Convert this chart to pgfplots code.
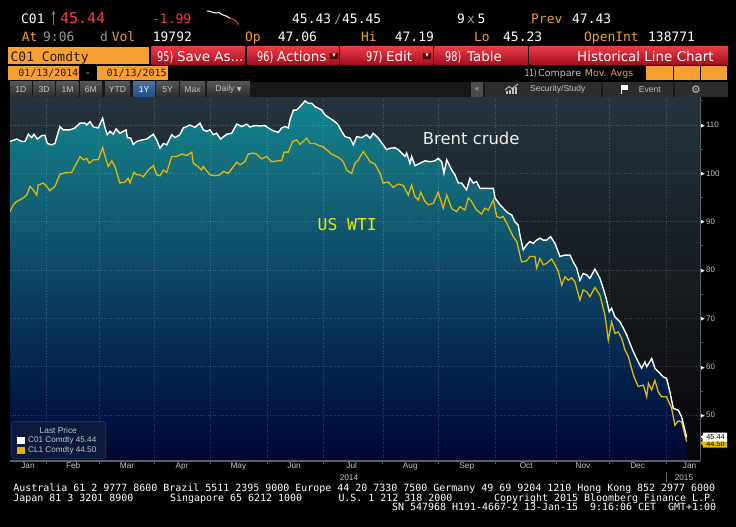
\documentclass[border=0pt]{standalone}
\usepackage{pgfplots}
\pgfplotsset{compat=1.18}
\usepackage{graphicx}
\usetikzlibrary{arrows.meta}
\usepackage{fontspec}
\setmainfont{DejaVu Sans}
\newfontfamily\mono{DejaVu Sans Mono}
\newfontfamily\lib{Liberation Sans}
\newcommand\fs[1]{\fontsize{#1}{#1}\selectfont}
\definecolor{bbor}{HTML}{F6A032}
\definecolor{bbortxt}{HTML}{F0A030}
\definecolor{bbred}{HTML}{FF3838}
\definecolor{bbgreen}{HTML}{2DB34A}
\definecolor{hgray}{HTML}{9A9A9A}
\definecolor{labgray}{HTML}{C4C4C4}
\definecolor{axgray}{HTML}{5A6068}
\definecolor{wti}{HTML}{E2B700}
\definecolor{wtitxt}{HTML}{F4E600}
\definecolor{btnTop}{HTML}{E83A46}
\definecolor{btnBot}{HTML}{A50F1C}
\definecolor{tbBtn}{HTML}{2C2C2C}
\definecolor{tbBar}{HTML}{181818}
\definecolor{tbBlue}{HTML}{1E4E86}
\definecolor{lgfill}{HTML}{0B1A3A}
\definecolor{lgdraw}{HTML}{2B3A55}
\definecolor{datetxt}{HTML}{2A1800}
% area under Brent
\definecolor{fa0}{HTML}{000830}
\definecolor{fa1}{HTML}{00103E}
\definecolor{fa2}{HTML}{04264F}
\definecolor{fa3}{HTML}{0A3E60}
\definecolor{fa4}{HTML}{11596F}
\definecolor{fa5}{HTML}{156D7C}
\definecolor{fa6}{HTML}{0E858E}
% background
\definecolor{bg0}{HTML}{050507}
\definecolor{bg1}{HTML}{0A0A0E}
\definecolor{bg2}{HTML}{101116}
\definecolor{bg3}{HTML}{131719}
\definecolor{bg4}{HTML}{171D22}
\definecolor{bg5}{HTML}{1B232B}
\definecolor{bg6}{HTML}{1F2A32}
\definecolor{bg7}{HTML}{25333C}
\pgfdeclareverticalshading{areashade}{100bp}{color(0bp)=(fa0); color(25bp)=(fa0); color(30bp)=(fa1); color(38.4bp)=(fa2); color(48.2bp)=(fa3); color(57.6bp)=(fa4); color(66.3bp)=(fa5); color(75bp)=(fa6); color(100bp)=(fa6)}
\pgfdeclareverticalshading{bgshade}{100bp}{color(0bp)=(bg0); color(25bp)=(bg0); color(31.3bp)=(bg1); color(38bp)=(bg2); color(44.6bp)=(bg3); color(51.2bp)=(bg4); color(59.2bp)=(bg5); color(64.5bp)=(bg6); color(75bp)=(bg7); color(100bp)=(bg7)}
\newcommand\tri{{\rmfamily\color{white}\fs{5}\raisebox{0.4bp}{▶}}\hspace{1.3bp}}
\begin{document}
\begin{tikzpicture}
\begin{scope}[x=1bp,y=-1bp]
\fill[black] (0,0) rectangle (736,527);
% ---------- header row 1
\tikzset{hn/.style={anchor=base west, inner sep=0, font=\mono\fs{13}}}
\node[hn, text=white] at (21,23.3) {C01};
\draw[bbgreen, line width=1.1bp, -{Stealth[length=3.5bp,width=4bp]}] (53.5,25) -- (53.5,11);
\node[hn, text=bbred, font=\mono\fs{15}] at (60,23.3) {45.44};
\node[hn, text=bbred] at (152,23.3) {-1.99};
\node[hn, text=white] at (292,23.3) {45.43};
\node[hn, text=hgray] at (334,23.3) {/};
\node[hn, text=white] at (342,23.3) {45.45};
\node[hn, text=white] at (457,23.3) {9};
\node[hn, text=hgray] at (467,23.3) {x};
\node[hn, text=white] at (477.5,23.3) {5};
\node[hn, text=bbortxt] at (531,23.3) {Prev};
\node[hn, text=white] at (572,23.3) {47.43};
% ---------- header row 2
\node[hn, text=bbortxt] at (21.7,41.5) {At};
\node[hn, text=hgray] at (43,41.5) {9:06};
\node[hn, text=hgray] at (100,41.5) {d};
\node[hn, text=bbortxt] at (111.7,41.5) {Vol};
\node[hn, text=white] at (152.7,41.5) {19792};
\node[hn, text=bbortxt] at (245,41.5) {Op};
\node[hn, text=white] at (277.7,41.5) {47.06};
\node[hn, text=bbortxt] at (361,41.5) {Hi};
\node[hn, text=white] at (394.7,41.5) {47.19};
\node[hn, text=bbortxt] at (474,41.5) {Lo};
\node[hn, text=white] at (503,41.5) {45.23};
\node[hn, text=bbortxt] at (584,41.5) {OpenInt};
\node[hn, text=white] at (648,41.5) {138771};
% ---------- row 3
\fill[bbor] (8.3,46.7) rectangle (149,64.3);
\node[hn, text=datetxt] at (10.5,61) {C01 Comdty};
\foreach \a/\b in {151.7/245, 247.3/338.3, 340/433, 434.7/528, 529.7/728}{
  \shade[top color=btnTop, bottom color=btnBot] (\a,46.7) rectangle (\b,64.3);
}
\tikzset{bt/.style={anchor=base west, inner sep=0, text=white, font=\fs{13.5}}}
\node[bt] at (157,61) {\scalebox{0.72}[1]{95)}};
\node[bt] at (177,61) {Save As...};
\node[bt] at (257,61) {\scalebox{0.72}[1]{96)}};
\node[bt] at (277,61) {Actions};
\fill[black!70!red] (330,52.5) rectangle (338,58.5);
\node[anchor=center, inner sep=0, text=white, font=\fs{7}] at (334,55.3) {▾};
\node[bt] at (366,61) {\scalebox{0.72}[1]{97)}};
\node[bt] at (386,61) {Edit};
\fill[black!70!red] (423,52.5) rectangle (431,58.5);
\node[anchor=center, inner sep=0, text=white, font=\fs{7}] at (427,55.3) {▾};
\node[bt] at (445,61) {\scalebox{0.72}[1]{98)}};
\node[bt] at (467,61) {Table};
\node[bt] at (577,61) {Historical Line Chart};
% ---------- row 4
\fill[bbor] (8.3,66) rectangle (79,80);
\fill[bbor] (96.7,66) rectangle (168.3,80);
\node[anchor=base west, inner sep=0, text=datetxt, font=\mono\fs{10}] at (18.3,76.3) {01/13/2014};
\node[anchor=base west, inner sep=0, text=datetxt, font=\mono\fs{10}] at (106.5,76.3) {01/13/2015};
\node[anchor=base west, inner sep=0, text=bbor, font=\mono\fs{11}] at (84.5,76.3) {-};
\node[anchor=base west, inner sep=0, text=cyan!30!white, font=\fs{9.5}] at (524.7,76.3) {\scalebox{0.75}[1]{11)}};
\node[anchor=base west, inner sep=0, text=labgray, font=\fs{9.5}] at (538,76.3) {Compare};
\node[anchor=base west, inner sep=0, text=bbortxt, font=\fs{9.5}] at (584.7,76.3) {Mov. Avgs};
\fill[bbor] (646,66) rectangle (673,80);
\fill[bbor] (674,66) rectangle (700,80);
\fill[bbor] (701,66) rectangle (727,80);
% ---------- row 5 toolbar
\fill[tbBar] (10,81.7) rectangle (728,96.7);
\tikzset{tb/.style={anchor=center, inner sep=0, text=labgray, font=\lib\fs{8.6}}}
\foreach \a/\b/\t in {10/31.7/1D, 33/55/3D, 56.7/78.3/1M, 80/101.7/6M, 105/130/YTD, 156.7/178.3/5Y, 180/205/Max}{
  \shade[top color=tbBtn!80!white, bottom color=tbBtn] (\a,81.7) rectangle (\b,96.7);
  \node[tb] at ({(\a+\b)/2},89.2) {\t};
}
\shade[top color=tbBlue!80!white, bottom color=tbBlue] (133,81.7) rectangle (155,96.7);
\node[tb, text=white] at (144,89.2) {1Y};
\shade[top color=tbBtn!80!white, bottom color=tbBtn] (207,81.7) rectangle (250,96.7);
\node[tb] at (228.5,89.2) {Daily {\rmfamily\fs{6}▼}};
\fill[tbBtn!85!white] (471,81.7) rectangle (483,96.7);
\node[tb] at (477,89) {{\rmfamily\fs{8}«}};
\fill[tbBtn] (484.7,81.7) rectangle (601,96.7);
\fill[tbBtn] (603,81.7) rectangle (673,96.7);
\fill[tbBtn] (674.7,81.7) rectangle (728,96.7);
% security/study icon
\fill[labgray] (506,94) rectangle (507.5,91);
\fill[labgray] (509,94) rectangle (510.5,89.5);
\fill[labgray] (512,94) rectangle (513.5,88);
\fill[labgray] (515,94) rectangle (516.5,87);
\draw[labgray, line width=0.9bp] (505,90) -- (509,86.5) -- (512,88.5) -- (518,84);
\node[tb, anchor=west, font=\lib\fs{8.6}] at (530,89.2) {Security/Study};
% event flag
\draw[white, line width=1bp] (621,84.5) -- (621,94);
\fill[white] (621,84.5) rectangle (628,90);
\node[tb, anchor=west, font=\lib\fs{8.6}] at (638.7,89.2) {Event};
\node[tb, font=\rmfamily\fs{11}] at (696,89.2) {⚙};
\end{scope}

% ================= main chart
\begin{axis}[
  at={(10bp,-461bp)}, anchor=south west,
  width=690bp, height=364bp, scale only axis,
  xmin=0, xmax=371.6, ymin=40.5, ymax=115.8,
  axis x line*=bottom, axis y line*=right,
  axis on top,
  axis background/.style={shading=bgshade},
  x axis line style={draw=axgray, line width=1.4bp},
  y axis line style={draw=axgray, line width=0.8bp},
  xtick={9.7,34,63,92.7,123,153,184,215.6,246,278,308.6,338,366},
  xticklabels={Jan,Feb,Mar,Apr,May,Jun,Jul,Aug,Sep,Oct,Nov,Dec,Jan},
  minor xtick={19.8,48.1,77.7,108,138.5,168.6,200.8,230.6,261.5,294.2,322.6,353.4},
  ytick={50,60,70,80,90,100,110},
  yticklabels={{\tri 50},{\tri 60},{\tri 70},{\tri 80},{\tri 90},{\tri 100},{\tri 110}},
  minor ytick={45,55,65,75,85,95,105,115},
  tick align=outside,
  major tick length=0pt, minor tick length=3bp,
  tick style={draw=axgray, line width=0.8bp},
  xminorgrids=true, ymajorgrids=true, xmajorgrids=false, yminorgrids=false,
  grid style={draw=white, draw opacity=0.2, line width=0.6bp, dash pattern=on 1bp off 1.6bp},
  minor grid style={draw=white, draw opacity=0.2, line width=0.6bp, dash pattern=on 1bp off 1.6bp},
  major grid style={draw=white, draw opacity=0.2, line width=0.6bp, dash pattern=on 1bp off 1.6bp},
  xticklabel style={font=\lib\fs{8.3}, text=labgray, inner sep=1.5bp},
  yticklabel style={font=\lib\fs{8}, text=labgray, anchor=west, inner sep=0.8bp},
]
\addplot[draw=none, shading=areashade, forget plot] coordinates {
(0,106.6)(3.6,107.1)(6.3,106.6)(8.1,106.6)(9.9,108.1)(11.7,107.4)(12.9,108.1)(14.7,107.1)(17.1,107.8)(18.8,107.9)(20.1,106.2)(22.5,105.9)(24.2,106.2)(26.9,109.7)(28.7,109.0)(32.3,109.0)(35.0,109.4)(37.7,110.4)(40.4,110.4)(41.3,110.0)(43.1,110.7)(44.9,109.6)(47.5,109.4)(49.9,111.4)(51.2,109.4)(52.4,108.0)(53.9,108.7)(55.6,108.1)(57.1,109.2)(59.2,108.3)(61.0,108.7)(62.5,109.0)(63.2,107.4)(65.0,107.3)(66.4,106.0)(68.2,106.6)(70.9,106.9)(73.6,107.1)(75.4,107.6)(77.2,108.1)(79.0,106.9)(80.8,105.2)(82.6,106.2)(84.4,105.9)(87.1,108.0)(88.9,107.4)(91.5,108.0)(93.3,109.4)(95.2,109.7)(96.9,110.0)(99.6,109.5)(102.3,110.4)(104.1,109.0)(105.9,108.7)(107.7,109.0)(109.5,108.0)(111.3,108.3)(113.4,107.1)(116.7,108.1)(119.4,108.3)(122.1,110.2)(124.8,109.7)(127.5,110.2)(129.2,109.6)(131.9,109.9)(134.6,109.8)(137.3,109.9)(139.1,109.4)(141.8,108.8)(144.5,108.5)(146.3,109.4)(148.1,109.7)(149.9,109.4)(150.8,111.1)(152.6,113.1)(154.4,113.1)(156.2,113.8)(158.9,115.0)(160.6,114.5)(162.5,114.5)(164.2,113.8)(166.0,113.5)(167.9,113.1)(169.6,112.1)(172.3,111.4)(175.0,110.7)(176.8,110.0)(178.6,108.7)(180.4,107.6)(183.1,107.3)(184.9,105.9)(186.7,107.6)(189.4,107.4)(192.1,108.0)(193.9,107.3)(195.6,108.3)(198.3,107.3)(201.0,105.9)(202.8,104.9)(204.6,105.2)(207.3,105.3)(209.1,104.9)(210.9,104.2)(212.7,103.5)(213.6,104.2)(215.4,102.1)(216.3,103.5)(218.1,101.6)(220.8,102.1)(223.5,102.6)(226.2,102.4)(228.9,102.6)(230.6,103.1)(232.5,102.4)(233.7,100.0)(235.2,102.8)(237.9,100.7)(239.6,99.7)(241.4,98.0)(243.2,98.0)(245.9,96.6)(247.7,99.0)(249.5,98.0)(251.3,98.3)(253.1,96.9)(256.7,96.9)(260.3,96.9)(261.2,94.9)(263.9,93.5)(266.6,92.4)(268.3,91.8)(270.2,91.4)(271.9,90.0)(273.7,89.3)(274.6,87.3)(276.4,84.2)(278.2,85.2)(280.0,85.9)(281.8,85.5)(283.6,86.2)(285.4,86.6)(287.2,86.2)(289.0,86.2)(291.2,86.9)(293.5,85.5)(296.2,82.8)(298.9,83.1)(301.6,83.1)(303.3,81.7)(305.2,80.4)(306.9,77.9)(308.7,79.3)(310.6,79.0)(312.3,78.3)(315.0,80.2)(317.7,78.3)(319.5,76.2)(321.3,73.8)(322.7,71.4)(324.0,72.1)(325.8,70.3)(328.5,69.3)(330.3,68.0)(332.1,66.6)(333.9,64.8)(335.7,63.1)(338.3,61.0)(340.2,59.7)(341.9,61.0)(342.9,60.0)(345.6,61.7)(347.3,59.7)(349.1,59.0)(351.8,57.9)(353.6,57.6)(355.4,54.8)(357.2,51.4)(359.9,51.0)(361.7,49.6)(364.4,45.4)
(364.4,40.5)(0,40.5)} -- cycle;
\addplot[wti, line width=1.3bp, forget plot] coordinates {
(0,92.1)(1.8,93.5)(3.6,94.2)(6.3,94.7)(9.0,95.5)(10.8,97.3)(12.5,96.6)(14.4,95.5)(15.2,97.6)(17.9,98.0)(19.8,97.3)(21.5,96.4)(24.2,97.3)(26.9,99.8)(30.5,100.2)(33.2,100.2)(35.9,102.1)(37.7,103.5)(39.5,102.8)(41.3,103.1)(42.7,102.1)(44.9,102.8)(47.5,102.8)(49.9,105.3)(51.2,103.5)(52.9,101.4)(54.8,102.6)(56.5,101.4)(59.2,98.0)(61.9,98.2)(63.7,99.0)(64.6,98.0)(66.8,100.2)(68.2,99.7)(70.0,99.7)(71.8,99.3)(74.5,100.7)(77.2,101.6)(79.0,99.7)(80.8,99.5)(82.6,100.7)(84.4,100.2)(87.1,103.5)(89.8,103.5)(92.5,104.0)(95.2,103.7)(97.9,104.4)(98.7,102.1)(101.4,101.4)(103.2,100.7)(104.1,101.4)(107.7,99.7)(110.4,99.5)(113.1,99.7)(114.9,100.4)(117.6,100.0)(120.3,101.4)(122.1,102.3)(123.9,101.8)(126.5,102.4)(128.3,104.0)(131.0,104.2)(132.8,104.0)(135.5,103.0)(138.2,103.5)(140.9,102.4)(144.5,102.6)(146.3,102.6)(147.6,104.4)(149.9,104.4)(152.2,106.6)(154.4,106.9)(156.2,106.0)(157.9,106.6)(159.8,107.3)(161.5,106.2)(164.2,106.2)(166.0,105.8)(168.7,105.5)(170.5,104.9)(173.2,104.0)(175.9,103.5)(177.7,103.1)(179.5,102.4)(181.3,100.7)(183.1,100.2)(184.0,100.0)(185.8,102.1)(187.6,102.8)(190.3,104.5)(192.1,103.5)(193.9,102.4)(196.6,101.9)(199.3,100.0)(201.0,98.0)(203.7,98.2)(206.4,97.1)(209.1,97.8)(211.8,97.5)(214.5,95.5)(216.3,97.6)(218.1,95.2)(219.9,94.5)(221.2,96.1)(223.5,94.2)(225.3,93.5)(228.0,93.8)(230.6,96.1)(233.3,92.8)(235.2,95.5)(237.9,92.7)(240.5,92.1)(242.3,93.1)(245.0,92.4)(246.8,94.9)(248.6,94.2)(251.3,92.4)(254.0,91.6)(255.8,92.8)(257.6,92.4)(260.3,94.5)(262.1,91.1)(263.9,90.8)(265.6,91.1)(267.5,89.7)(269.3,88.3)(271.0,86.9)(272.9,85.9)(275.5,81.7)(278.2,81.9)(280.0,82.8)(282.7,82.8)(283.6,80.4)(285.4,82.4)(287.2,81.1)(289.0,81.4)(291.7,82.3)(293.5,81.1)(295.3,79.7)(297.1,76.9)(298.9,78.6)(300.7,77.9)(302.5,78.4)(304.3,77.5)(306.9,73.8)(308.7,75.9)(310.6,75.5)(312.3,74.5)(315.0,76.4)(317.7,74.8)(320.4,70.7)(322.2,65.5)(324.0,69.3)(325.8,66.9)(327.6,67.2)(329.4,65.9)(331.2,63.5)(333.0,62.1)(335.7,58.3)(338.3,55.9)(341.1,56.2)(342.9,53.8)(343.8,56.6)(345.6,55.2)(347.3,57.2)(349.1,54.8)(350.9,53.8)(353.6,53.8)(356.3,51.4)(358.1,47.9)(359.9,48.8)(361.7,48.6)(364.4,44.5)};
\addplot[white, line width=1.4bp, forget plot] coordinates {
(0,106.6)(3.6,107.1)(6.3,106.6)(8.1,106.6)(9.9,108.1)(11.7,107.4)(12.9,108.1)(14.7,107.1)(17.1,107.8)(18.8,107.9)(20.1,106.2)(22.5,105.9)(24.2,106.2)(26.9,109.7)(28.7,109.0)(32.3,109.0)(35.0,109.4)(37.7,110.4)(40.4,110.4)(41.3,110.0)(43.1,110.7)(44.9,109.6)(47.5,109.4)(49.9,111.4)(51.2,109.4)(52.4,108.0)(53.9,108.7)(55.6,108.1)(57.1,109.2)(59.2,108.3)(61.0,108.7)(62.5,109.0)(63.2,107.4)(65.0,107.3)(66.4,106.0)(68.2,106.6)(70.9,106.9)(73.6,107.1)(75.4,107.6)(77.2,108.1)(79.0,106.9)(80.8,105.2)(82.6,106.2)(84.4,105.9)(87.1,108.0)(88.9,107.4)(91.5,108.0)(93.3,109.4)(95.2,109.7)(96.9,110.0)(99.6,109.5)(102.3,110.4)(104.1,109.0)(105.9,108.7)(107.7,109.0)(109.5,108.0)(111.3,108.3)(113.4,107.1)(116.7,108.1)(119.4,108.3)(122.1,110.2)(124.8,109.7)(127.5,110.2)(129.2,109.6)(131.9,109.9)(134.6,109.8)(137.3,109.9)(139.1,109.4)(141.8,108.8)(144.5,108.5)(146.3,109.4)(148.1,109.7)(149.9,109.4)(150.8,111.1)(152.6,113.1)(154.4,113.1)(156.2,113.8)(158.9,115.0)(160.6,114.5)(162.5,114.5)(164.2,113.8)(166.0,113.5)(167.9,113.1)(169.6,112.1)(172.3,111.4)(175.0,110.7)(176.8,110.0)(178.6,108.7)(180.4,107.6)(183.1,107.3)(184.9,105.9)(186.7,107.6)(189.4,107.4)(192.1,108.0)(193.9,107.3)(195.6,108.3)(198.3,107.3)(201.0,105.9)(202.8,104.9)(204.6,105.2)(207.3,105.3)(209.1,104.9)(210.9,104.2)(212.7,103.5)(213.6,104.2)(215.4,102.1)(216.3,103.5)(218.1,101.6)(220.8,102.1)(223.5,102.6)(226.2,102.4)(228.9,102.6)(230.6,103.1)(232.5,102.4)(233.7,100.0)(235.2,102.8)(237.9,100.7)(239.6,99.7)(241.4,98.0)(243.2,98.0)(245.9,96.6)(247.7,99.0)(249.5,98.0)(251.3,98.3)(253.1,96.9)(256.7,96.9)(260.3,96.9)(261.2,94.9)(263.9,93.5)(266.6,92.4)(268.3,91.8)(270.2,91.4)(271.9,90.0)(273.7,89.3)(274.6,87.3)(276.4,84.2)(278.2,85.2)(280.0,85.9)(281.8,85.5)(283.6,86.2)(285.4,86.6)(287.2,86.2)(289.0,86.2)(291.2,86.9)(293.5,85.5)(296.2,82.8)(298.9,83.1)(301.6,83.1)(303.3,81.7)(305.2,80.4)(306.9,77.9)(308.7,79.3)(310.6,79.0)(312.3,78.3)(315.0,80.2)(317.7,78.3)(319.5,76.2)(321.3,73.8)(322.7,71.4)(324.0,72.1)(325.8,70.3)(328.5,69.3)(330.3,68.0)(332.1,66.6)(333.9,64.8)(335.7,63.1)(338.3,61.0)(340.2,59.7)(341.9,61.0)(342.9,60.0)(345.6,61.7)(347.3,59.7)(349.1,59.0)(351.8,57.9)(353.6,57.6)(355.4,54.8)(357.2,51.4)(359.9,51.0)(361.7,49.6)(364.4,45.4)};
\end{axis}

% ================= sparkline in header
\begin{axis}[at={(207bp,-25bp)}, anchor=south west, width=31.3bp, height=14bp,
  scale only axis, hide axis, xmin=0, xmax=31.3, ymin=0, ymax=14, clip=false]
\addplot[white, line width=1bp] coordinates {(0,14)(3,13.7)(6,12.5)(9,12)(12,12.5)(15,10.5)(19,9)(23,6.7)};
\addplot[bbred, line width=1bp] coordinates {(23,6.7)(26.3,5.7)(29.7,3.3)(31.3,0)};
\end{axis}

\begin{scope}[x=1bp,y=-1bp]
% annotations
\node[anchor=base west, inner sep=0, text=white!94!black, font=\fs{16.5}] at (422.7,144.3) {Brent crude};
\node[anchor=base west, inner sep=0, text=wtitxt, font=\mono\fs{16.4}] at (317.5,230) {US WTI};
% legend
\draw[lgdraw, fill=lgfill, rounded corners=2bp, line width=0.6bp] (11.7,421.7) rectangle (105.7,458.3);
\node[anchor=center, inner sep=0, text=labgray, font=\lib\fs{8.4}] at (58.3,430.5) {Last Price};
\fill[white] (17.3,436.7) rectangle (25.3,444.3);
\node[anchor=west, inner sep=0, text=labgray, font=\lib\fs{8.2}] at (28,440.5) {C01 Comdty\ 45.44};
\fill[wti] (17.3,446.7) rectangle (25.3,454.3);
\node[anchor=west, inner sep=0, text=labgray, font=\lib\fs{8.2}] at (28,450.5) {CL1 Comdty\ 44.50};
% last-price tags on the right
\fill[wti] (700.5,443) -- (703,440) -- (703,438.5) -- (727,438.5) -- (727,447.7) -- (703,447.7) -- (703,446) -- cycle;
\node[anchor=center, inner sep=0, text=black, font=\lib\fs{7.3}] at (715.5,443.6) {44.50};
\fill[white] (700.5,437) -- (703,434.5) -- (703,432.6) -- (727,432.6) -- (727,441.6) -- (703,441.6) -- (703,439.5) -- cycle;
\node[anchor=center, inner sep=0, text=black, font=\lib\fs{7.3}] at (715.5,437.2) {45.44};
% year labels
\node[anchor=center, inner sep=0, text=labgray, font=\lib\fs{8.3}] at (349,477.3) {2014};
\node[anchor=center, inner sep=0, text=labgray, font=\lib\fs{8.3}] at (684,477.3) {2015};
\draw[axgray, line width=0.8bp] (666.3,471.5) -- (666.3,482);
% footer
\tikzset{ft/.style={anchor=base west, inner sep=0, text=white, font=\mono\fs{10}}}
\node[ft] at (13.3,491.7) {Australia 61 2 9777 8600 Brazil 5511 2395 9000 Europe 44 20 7330 7500 Germany 49 69 9204 1210 Hong Kong 852 2977 6000};
\node[ft] at (13.3,501.3) {Japan 81 3 3201 8900};
\node[ft] at (170,501.3) {Singapore 65 6212 1000};
\node[ft] at (338.3,501.3) {U.S. 1 212 318 2000};
\node[ft] at (494,501.3) {Copyright 2015 Bloomberg Finance L.P.};
\node[ft] at (392,510.9) {SN 547968 H191-4667-2 13-Jan-15\ \ 9:16:06 CET\ \ GMT+1:00};
\end{scope}
\pgfresetboundingbox
\path[use as bounding box] (0,0) rectangle (736bp,-527bp);
\end{tikzpicture}
\end{document}
